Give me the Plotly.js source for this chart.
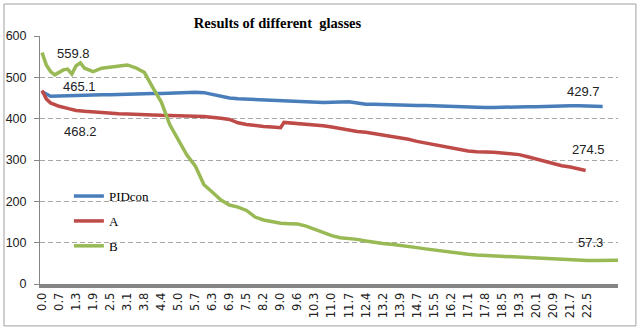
<!DOCTYPE html>
<html>
<head>
<meta charset="utf-8">
<script src="https://cdn.plot.ly/plotly-3.0.1.min.js"></script>
<style>html,body{margin:0;padding:0;background:#fff;}#chart{width:640px;height:331px;}</style>
</head>
<body>
<div id="chart"></div>
<script>
// Category tick labels (time)
const xLabels = ["0.0","0.7","1.3","1.9","2.5","3.1","3.8","4.4","5.0","5.7","6.3","6.9","7.5","8.2","9.0","9.6","10.3","11.0","11.7","12.4","13.2","13.9","14.7","15.5","16.2","17.1","17.8","18.5","19.3","20.1","20.9","21.7","22.5"];

// Series: sample positions (category index) and values
const pidX = [0,0.5,1,1.5,2,2.5,3,3.5,4,4.5,5,5.5,6,6.5,7,7.5,8,8.5,9,9.5,10,10.5,11,11.5,12,12.5,13,13.5,14,14.5,15,15.5,16,16.5,17,17.5,18,18.5,19,19.5,20,20.5,21,21.5,22,22.5,23,23.5,24,24.5,25,25.5,26,26.5,27,27.5,28,28.5,29,29.5,30,30.5,31,31.5,32,32.5,32.9];
const pidY = [465.1,454,455,456,457,456,457,458,458,459,459,460,460,461,461,462,462,463,464,463,458,453,450,448,447,446,445,444,443,442,442,441,440,439,440,440,441,438,435,435,434,435,434,433,432,432,431,430,430,429,428,428,427,427,428,428,428,429,429,430,430,430,431,431,431,430,429.7];

const aX = [0,0.25,0.5,1,1.5,2,2.5,3,3.5,4,4.5,5,5.5,6,6.5,7,7.5,8,8.5,9,9.5,10,10.5,11,11.5,12,12.5,13,13.5,14,14.2,14.5,15,15.5,16,16.5,17,17.5,18,18.5,19,19.5,20,20.5,21,21.5,22,22.5,23,23.5,24,24.5,25,25.5,26,26.5,27,27.5,28,28.5,29,29.5,30,30.5,31,31.5,31.9];
const aY = [468.2,448,438,430,425,420,418,416,414,413,412,411,411,410,409,408,408,407,406,406,405,404,401,398,390,386,383,381,380,378,391,390,389,387,385,383,380,376,372,369,367,364,360,357,354,350,345,341,338,333,330,326,322,320,320,319,317,316,313,308,302,296,290,286,283,279,274.5];

const bX = [0,0.25,0.5,0.75,1,1.25,1.5,1.75,2,2.25,2.5,3,3.5,4,4.5,5,5.5,6,6.5,7,7.5,8,8.5,9,9.5,10,10.5,11,11.5,12,12.5,13,13.5,14,14.5,15,15.5,16,16.5,17,17.5,18,18.5,19,19.5,20,20.5,21,21.5,22,22.5,23,23.5,24,24.5,25,25.5,26,26.5,27,27.5,28,28.5,29,29.5,30,30.5,31,31.5,32,32.5,33,33.5,33.8];
const bY = [559.8,530,514,506,512,518,520,508,528,535,522,514,522,524,528,530,523,512,475,440,385,350,312,285,240,222,203,191,186,178,162,155,150,147,146,145,140,132,124,117,112,111,108,104,100,98,96,94,91,88,85,82,80,77,74,72,70,69,68,67,65,64,63,61,60,59,58,58,57,57,57,57,57,57.3];

const seriesNames = ["PIDcon","A","B"];
const seriesColors = ["#4A7EBB","#BE4B48","#98B954"];

const traces = [
  {x: pidX, y: pidY, name: seriesNames[0], legendgroup:"g1", type:"scatter", mode:"lines", line:{color:seriesColors[0], width:3.5}},
  {x: aX, y: aY, name: seriesNames[1], legendgroup:"g2", type:"scatter", mode:"lines", line:{color:seriesColors[1], width:3.5}},
  {x: bX, y: bY, name: seriesNames[2], legendgroup:"g3", type:"scatter", mode:"lines", line:{color:seriesColors[2], width:3.5}}
];

function lab(xs, ys, i, xshift, yshift) {
  return {x: xs[i], y: ys[i], xref:"x", yref:"y", text: ys[i].toFixed(1), showarrow:false,
    xanchor:"center", yanchor:"middle", xshift:xshift, yshift:yshift,
    font:{family:"Liberation Sans, Arial, sans-serif", size:13, color:"#222"}};
}

const annotations = [
  lab(bX, bY, 0, 31, -1),
  lab(pidX, pidY, 0, 37, 5),
  lab(aX, aY, 0, 38, -41),
  lab(pidX, pidY, pidX.length-1, -19, 15),
  lab(aX, aY, aX.length-1, 3, 21),
  lab(bX, bY, bX.length-1, -28, 18)
];

const layout = {
  width:640, height:331,
  margin:{l:40, r:22, t:36, b:47},
  paper_bgcolor:"#fff", plot_bgcolor:"#fff",
  title:{text:"Results of different  glasses", font:{family:"Liberation Serif, Times New Roman, serif", size:14.5, color:"#000", weight:"bold"},
    xref:"container", x:0.4336, xanchor:"center", yref:"container", y:0.931, yanchor:"middle"},
  showlegend:true,
  legend:{x:0.05, y:0.415, xanchor:"left", yanchor:"top", bgcolor:"rgba(0,0,0,0)", borderwidth:0,
    font:{family:"Liberation Serif, Times New Roman, serif", size:13, color:"#000"}, tracegroupgap:5},
  xaxis:{type:"linear", range:[-0.12, 33.8], tickvals: xLabels.map((_, i) => i), ticktext: xLabels,
    tickangle:-90, showgrid:false, zeroline:false, showline:true, linecolor:"#858585", linewidth:4,
    ticks:"", tickfont:{family:"DejaVu Sans, Verdana, sans-serif", size:11.5, color:"#222"}},
  yaxis:{range:[0, 600], dtick:100, tick0:0, showgrid:true, gridcolor:"#a6a6a6", griddash:"5px,3px", gridwidth:1,
    zeroline:false, showline:true, linecolor:"#868686", linewidth:1, ticks:"outside", ticklen:5, tickcolor:"#868686",
    tickfont:{family:"Liberation Sans, Arial, sans-serif", size:12.5, color:"#222"}, ticklabelstandoff:5},
  annotations: annotations,
  shapes:[{type:"rect", xref:"paper", yref:"paper", x0:-0.0623, x1:1.031, y0:-0.169, y1:1.129, line:{color:"#a0a0a0", width:1}, layer:"below"}]
};

Plotly.newPlot("chart", traces, layout, {staticPlot:true, displayModeBar:false});
</script>
</body>
</html>
